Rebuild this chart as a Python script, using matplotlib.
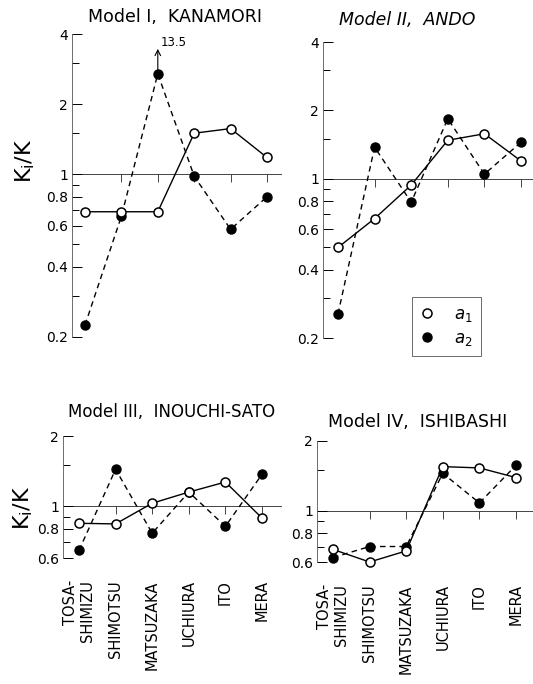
import numpy as np
import matplotlib.pyplot as plt
from matplotlib.ticker import FixedLocator, NullFormatter

stations = ['TOSA-\nSHIMIZU', 'SHIMOTSU', 'MATSUZAKA', 'UCHIURA', 'ITO', 'MERA']

# Ki/K (a2 at MATSUZAKA in model I is 13.5, drawn clipped)
kanamori_a1 = [0.69, 0.69, 0.69, 1.50, 1.57, 1.18]
kanamori_a2 = [0.225, 0.66, 2.7, 0.98, 0.58, 0.80]
ando_a1 = [0.50, 0.67, 0.94, 1.48, 1.58, 1.20]
ando_a2 = [0.255, 1.38, 0.79, 1.84, 1.05, 1.45]
inouchi_a1 = [0.845, 0.84, 1.03, 1.15, 1.27, 0.89]
inouchi_a2 = [0.647, 1.44, 0.766, 1.15, 0.82, 1.37]
ishibashi_a1 = [0.68, 0.60, 0.67, 1.55, 1.53, 1.39]
ishibashi_a2 = [0.627, 0.70, 0.70, 1.45, 1.08, 1.57]

titles = ['Model I,  KANAMORI', 'Model II,  ANDO', 'Model III,  INOUCHI-SATO', 'Model IV,  ISHIBASHI']

W, H = 533, 684
fig = plt.figure(figsize=(W / 100, H / 100), dpi=100)


def make_axes(left, top, bottom, first_x, spacing, right=None):
    # pixel box -> figure fraction
    if right is None:
        right = W
    ax = fig.add_axes([left / W, 1 - bottom / H, (right - left) / W, (bottom - top) / H])
    x0 = -(first_x - left) / spacing
    x1 = x0 + (right - left) / spacing
    ax.set_xlim(x0, x1)
    return ax


def style(ax, ylim, major, minor, bottom_labels):
    ax.set_yscale('log')
    ax.set_ylim(*ylim)
    ax.yaxis.set_major_locator(FixedLocator(major))
    ax.yaxis.set_minor_locator(FixedLocator(minor))
    ax.set_yticklabels([('%g' % v) for v in major])
    ax.yaxis.set_minor_formatter(NullFormatter())
    ax.tick_params(axis='y', which='major', direction='in', length=7, width=0.7, labelsize=10, pad=3)
    ax.tick_params(axis='y', which='minor', direction='in', length=5, width=0.7)
    for s in ['top', 'right', 'bottom']:
        ax.spines[s].set_visible(False)
    ax.spines['left'].set_linewidth(0.6)
    ax.spines['left'].set_color('#555555')
    ax.axhline(1, color='#444444', lw=0.7, zorder=1)
    x = np.arange(len(stations))
    ax.plot(x[1:], np.ones(len(stations) - 1), ls='none', marker=3, ms=6, mew=0.7, color='#444444', zorder=1)
    ax.set_xticks(x)
    if bottom_labels:
        ax.set_xticklabels(stations, rotation=90, fontsize=10.5, multialignment='right')
        ax.tick_params(axis='x', length=0, pad=16)
    else:
        ax.tick_params(axis='x', length=0, labelbottom=False)


def draw(ax, a1, a2):
    x = np.arange(len(stations))
    ax.plot(x, a2, ls=(0, (4, 3)), lw=1.0, color='black', marker='o', ms=6.5,
            mfc='black', mec='black', zorder=3, label='$a_2$', clip_on=False)
    ax.plot(x, a1, ls='-', lw=1.0, color='black', marker='o', ms=6.5,
            mfc='white', mec='black', mew=1.1, zorder=4, label='$a_1$', clip_on=False)


top_major = [0.2, 0.4, 0.6, 0.8, 1, 2, 4]
top_minor = [0.3, 0.5, 0.7, 0.9, 1.5, 3]
bot_major = [0.6, 0.8, 1, 2]
bot_minor = [0.7, 0.9, 1.5]

ax1 = make_axes(72, 34, 337, 85, 36.4, right=282)
style(ax1, (0.2, 4), top_major, top_minor, False)
draw(ax1, kanamori_a1, kanamori_a2)
ax1.annotate('', xy=(2, 3.55), xytext=(2, 2.7),
             arrowprops=dict(arrowstyle='->', lw=0.8, color='black'))
ax1.text(2.07, 3.45, '13.5', fontsize=8.5, va='bottom', ha='left')

ax2 = make_axes(323, 42, 338, 338, 36.6)
style(ax2, (0.2, 4), top_major, top_minor, False)
draw(ax2, ando_a1, ando_a2)
h, l = ax2.get_legend_handles_labels()
leg = ax2.legend(h[::-1], l[::-1], loc='upper left', bbox_to_anchor=(0.425, 0.14),
                 numpoints=1, handlelength=0.8, handletextpad=1.2, fontsize=12,
                 frameon=True, fancybox=False, edgecolor='#444444', borderpad=0.5,
                 borderaxespad=0, labelspacing=0.3)
for hd in leg.legend_handles:
    hd.set_linestyle('none')
leg.get_frame().set_linewidth(0.7)

ax3 = make_axes(63, 436, 558, 79, 36.6, right=282)
style(ax3, (0.6, 2), bot_major, bot_minor, True)
draw(ax3, inouchi_a1, inouchi_a2)

ax4 = make_axes(317, 441, 562, 333, 36.6)
style(ax4, (0.6, 2), bot_major, bot_minor, True)
draw(ax4, ishibashi_a1, ishibashi_a2)

fig.text(175 / W, 1 - 17 / H, titles[0], fontsize=12.5, ha='center', va='center')
fig.text(407 / W, 1 - 20 / H, titles[1], fontsize=12.5, ha='center', va='center', style='italic')
fig.text(172 / W, 1 - 412 / H, titles[2], fontsize=12, ha='center', va='center')
fig.text(418 / W, 1 - 422 / H, titles[3], fontsize=12.5, ha='center', va='center')

ylab = 'K$_\\mathregular{i}$/K'
fig.text(25 / W, 1 - 161 / H, ylab, fontsize=16, rotation=90, ha='center', va='center')
fig.text(23 / W, 1 - 508 / H, ylab, fontsize=16, rotation=90, ha='center', va='center')

fig.savefig('out.png', dpi=100)
